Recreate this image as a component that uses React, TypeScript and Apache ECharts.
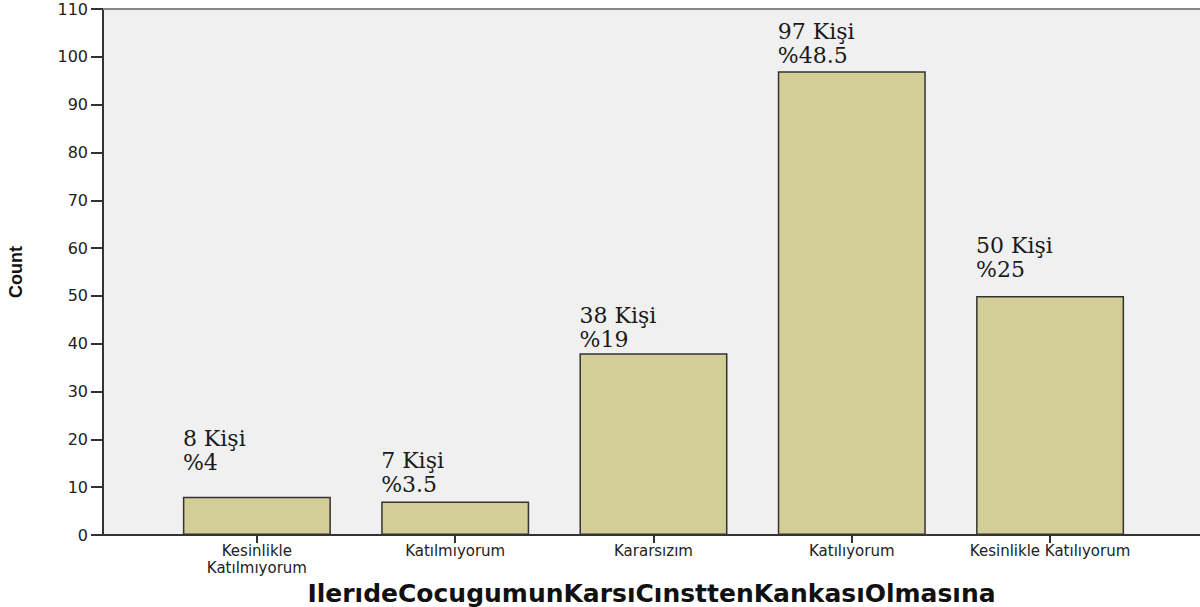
import React, { useEffect, useRef } from "react";
import * as echarts from "echarts";

const categories = [
  "Kesinlikle\nKatılmıyorum",
  "Katılmıyorum",
  "Kararsızım",
  "Katılıyorum",
  "Kesinlikle Katılıyorum",
];
const counts = [8, 7, 38, 97, 50];
const percents = ["4", "3.5", "19", "48.5", "25"];
const yTicks = [0, 10, 20, 30, 40, 50, 60, 70, 80, 90, 100, 110];
const xTitle = "IlerıdeCocugumunKarsıCınsttenKankasıOlmasına";
const yTitle = "Count";

// label gap (px) above each bar, as placed in the original
const labelGaps = [22, 5, 2, 4, 14];

export default function App() {
  const ref = useRef<HTMLDivElement>(null);
  useEffect(() => {
    if (!ref.current) return;
    const chart = echarts.init(ref.current, undefined, { renderer: "svg" });
    const idx = categories.map((_, i) => i);
    chart.setOption({
      animation: false,
      backgroundColor: "#ffffff",
      grid: {
        left: 103,
        right: 0,
        top: 9,
        bottom: 72,
        show: true,
        backgroundColor: "#f0f0f0",
        borderWidth: 0,
        containLabel: false,
        outerBoundsMode: "none",
      },
      xAxis: {
        type: "value",
        min: -0.776,
        max: 4.756,
        name: xTitle,
        nameLocation: "middle",
        nameGap: 43,
        nameTextStyle: {
          fontFamily: "DejaVu Sans",
          fontWeight: "bold",
          fontSize: 25,
          color: "#111",
        },
        splitLine: { show: false },
        axisLine: { show: true, onZero: false, lineStyle: { color: "#333", width: 2 } },
        axisTick: {
          show: true,
          customValues: idx,
          length: 8,
          lineStyle: { color: "#333", width: 2 },
        },
        axisLabel: {
          customValues: idx,
          formatter: (v: number) => categories[Math.round(v)] ?? "",
          fontFamily: "DejaVu Sans",
          fontSize: 15,
          lineHeight: 17,
          color: "#222",
          margin: 7,
        },
      },
      yAxis: {
        type: "value",
        min: 0,
        max: 110,
        interval: 10,
        name: yTitle,
        nameLocation: "middle",
        nameGap: 78,
        nameRotate: 90,
        nameTextStyle: {
          fontFamily: "Liberation Sans",
          fontWeight: "bold",
          fontSize: 18,
          color: "#111",
        },
        splitLine: { show: false },
        axisLine: { show: true, onZero: false, lineStyle: { color: "#333", width: 2 } },
        axisTick: { show: true, length: 12, lineStyle: { color: "#333", width: 2 } },
        axisLabel: {
          fontFamily: "DejaVu Sans",
          fontSize: 16,
          color: "#222",
          margin: 15,
          formatter: (v: number) => (yTicks.includes(v) ? String(v) : ""),
        },
      },
      graphic: [
        {
          type: "line",
          shape: { x1: 103, y1: 9, x2: 1200, y2: 9 },
          style: { stroke: "#888", lineWidth: 2 },
          z: 10,
        },
      ],
      series: [
        {
          type: "bar",
          barWidth: 148,
          data: counts.map((c, i) => ({
            value: [i, c],
            label: {
              show: true,
              position: [0, -labelGaps[i]],
              align: "left",
              verticalAlign: "bottom",
            },
          })),
          itemStyle: {
            color: "#d3cd98",
            borderColor: "#333",
            borderWidth: 1.5,
          },
          label: {
            show: true,
            formatter: (p: any) =>
              `${counts[p.dataIndex]} Kişi\n%${percents[p.dataIndex]}`,
            fontFamily: "DejaVu Serif",
            fontSize: 22,
            lineHeight: 24,
            color: "#1a1a1a",
          },
        },
      ],
    });
    return () => chart.dispose();
  }, []);
  return (
    <div
      ref={ref}
      style={{ position: "absolute", left: 0, top: 0, width: 1200, height: 607 }}
    />
  );
}
